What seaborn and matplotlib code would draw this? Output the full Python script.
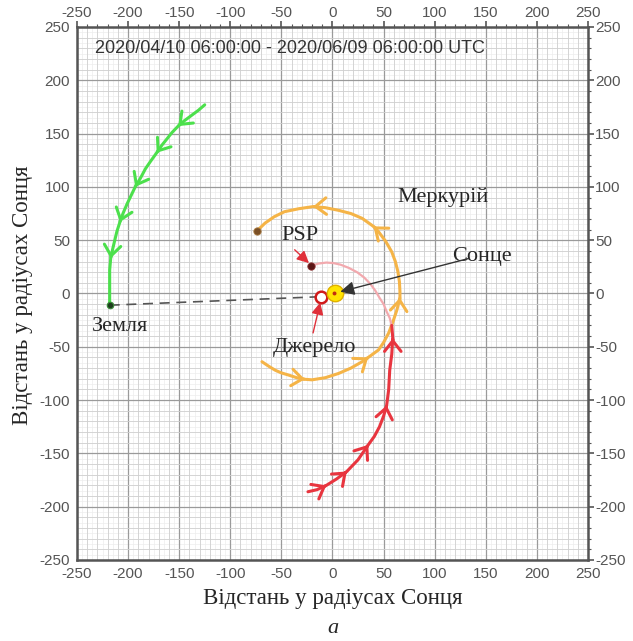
import numpy as np
import pandas as pd
import seaborn as sns
import matplotlib.pyplot as plt
from matplotlib.ticker import MultipleLocator

# траєкторії у радіусах Сонця
earth_x = [-125, -131, -138, -145, -151, -157, -162, -167, -172, -178, -183, -188, -193,
           -197, -201, -205, -208, -211, -213, -215, -217, -218, -218, -218, -218]
earth_y = [177, 172, 167, 162, 157, 151, 145, 139, 132, 124, 117, 108, 100,
           92, 84, 75, 67, 58, 50, 42, 33, 22, 12, 0, -11]
earth_arrows = [4, 8, 12, 16, 20]

merc_x = [-69, -62, -56, -50, -43, -35, -27, -20, -7, 6, 18, 29, 35, 45, 50, 55, 59, 63, 65,
          66, 66, 65.5, 64, 61.5, 58, 52, 45, 40, 29, 18, 6, -7, -19, -33, -47, -57, -66, -74]
merc_y = [-64, -68.5, -72, -74.5, -76.5, -79, -80.5, -81, -79, -75, -70, -64, -60, -53, -46,
          -37, -27, -15.5, -8, -4, 2, 11, 20.5, 30, 39, 49, 58, 63, 70.5, 75, 78, 80.5, 81.5,
          79.5, 76.7, 72, 66, 58.6]
merc_arrows = [6, 12, 19, 27, 32]

psp_x = [-24, -15, -6, 4, 14, 25, 35, 41, 46, 50, 53, 55, 56, 58, 59, 58]
psp_y = [-186, -184, -180, -174, -167, -156, -142, -134, -125, -115, -105, -90, -72, -57, -42, -30]
psp_arrows = [2, 4, 6, 10, 14]
psp_tail_x = [58, 56, 53, 50, 46, 42, 37, 31, 24, 16, 8, 1, -6, -14, -21]
psp_tail_y = [-30, -23, -17, -10, -4, 2.5, 9, 15, 20, 24, 27, 28.5, 29, 28, 26]

earth_pos = (-218, -11)
merc_pos = (-74, 58.6)
psp_pos = (-21, 26)
source_pos = (-11, -3)
sun_pos = (2, 0)

title = "2020/04/10 06:00:00 - 2020/06/09 06:00:00 UTC"
xlabel = "Відстань у радіусах Сонця"

sns.set_style("white")
plt.rcParams['font.family'] = ['Liberation Sans', 'DejaVu Sans']
plt.rcParams['axes.unicode_minus'] = False
serif = ['Liberation Serif', 'DejaVu Serif']

fig = plt.figure(figsize=(6.33, 6.41), dpi=100)
ax = fig.add_axes([0.1216, 0.1264, 0.8073, 0.8315])

# сітка
for v in np.arange(-250, 251, 5):
    ax.axvline(v, color="#ededed", lw=0.5, zorder=0)
    ax.axhline(v, color="#ededed", lw=0.5, zorder=0)
ax.xaxis.set_major_locator(MultipleLocator(50))
ax.yaxis.set_major_locator(MultipleLocator(50))
ax.xaxis.set_minor_locator(MultipleLocator(10))
ax.yaxis.set_minor_locator(MultipleLocator(10))
ax.grid(which="minor", color="#d0d0d0", lw=0.6, zorder=0)
ax.grid(which="major", color="#9a9a9a", lw=0.9, zorder=0)
ax.set_axisbelow(True)


def path(xs, ys, color, arrows=(), lw=2.2):
    df = pd.DataFrame({"x": xs, "y": ys})
    sns.lineplot(data=df, x="x", y="y", sort=False, estimator=None,
                 color=color, lw=lw, ax=ax, zorder=3)
    for i in arrows:
        dx = xs[i + 1] - xs[i - 1]
        dy = ys[i + 1] - ys[i - 1]
        ax.annotate("", xy=(xs[i], ys[i]), xytext=(xs[i] - 0.05 * dx, ys[i] - 0.05 * dy),
                    arrowprops=dict(arrowstyle="->,head_length=0.45,head_width=0.35",
                                    color=color, lw=lw, shrinkA=0, shrinkB=0,
                                    mutation_scale=17), zorder=4)


path(earth_x, earth_y, "#4ce04c", earth_arrows)
path(merc_x, merc_y, "#f5b447", merc_arrows)
path(psp_tail_x, psp_tail_y, "#f2a9ae", lw=1.6)
path(psp_x, psp_y, "#e8353f", psp_arrows)

# лінія Земля - джерело
ax.plot([earth_pos[0], source_pos[0]], [earth_pos[1], source_pos[1]],
        color="#555555", lw=1.2, ls=(0, (6, 4)), zorder=3)

sns.scatterplot(x=[earth_pos[0]], y=[earth_pos[1]], s=22, color="#1d3d1d",
                edgecolor="#3a8a3a", lw=0.8, ax=ax, zorder=5)
sns.scatterplot(x=[merc_pos[0]], y=[merc_pos[1]], s=28, color="#7a4f25",
                edgecolor="#a87a40", lw=0.6, ax=ax, zorder=5)
sns.scatterplot(x=[psp_pos[0]], y=[psp_pos[1]], s=28, color="#5a1515",
                edgecolor="#8a3030", lw=0.6, ax=ax, zorder=5)
sns.scatterplot(x=[source_pos[0]], y=[source_pos[1]], s=70, color="white",
                edgecolor="#d01a1a", lw=1.8, ax=ax, zorder=6)
sns.scatterplot(x=[sun_pos[0]], y=[sun_pos[1]], s=140, color="#ffe400",
                edgecolor="#e0b000", lw=1.0, ax=ax, zorder=6)
sns.scatterplot(x=[sun_pos[0]], y=[sun_pos[1]], s=8, color="#c03010",
                edgecolor="none", ax=ax, zorder=7)

# підписи
ax.text(-232, 230, title, fontsize=13, color="#333333", va="center", ha="left")
ax.text(108, 90.5, "Меркурій", family=serif, fontsize=16, ha="center", va="center")
ax.text(146, 35, "Сонце", family=serif, fontsize=16, ha="center", va="center")
ax.text(-32, 54, "PSP", family=serif, fontsize=16, ha="center", va="center")
ax.text(-18, -51, "Джерело", family=serif, fontsize=16, ha="center", va="center")
ax.text(-208, -31, "Земля", family=serif, fontsize=16, ha="center", va="center")

ax.annotate("", xy=(5, 1), xytext=(134, 33),
            arrowprops=dict(arrowstyle="-|>,head_length=0.6,head_width=0.3",
                            color="#333333", lw=1.0, shrinkA=0, shrinkB=2,
                            mutation_scale=14), zorder=8)
ax.annotate("", xy=(-23, 28.5), xytext=(-37, 41),
            arrowprops=dict(arrowstyle="-|>,head_length=0.6,head_width=0.3",
                            color="#e0303a", lw=1.0, shrinkA=0, shrinkB=0,
                            mutation_scale=12), zorder=8)
ax.annotate("", xy=(-12, -8.5), xytext=(-19, -37),
            arrowprops=dict(arrowstyle="-|>,head_length=0.6,head_width=0.3",
                            color="#e0303a", lw=1.0, shrinkA=0, shrinkB=0,
                            mutation_scale=12), zorder=8)

ax.set_xlim(-250, 250)
ax.set_ylim(-250, 250)
ax.set_xlabel("")
ax.set_ylabel("")
ax.tick_params(which="both", top=True, right=True, labeltop=True, labelright=True,
               direction="out", color="#555555")
ax.tick_params(which="major", length=4, width=1.2, labelsize=11,
               labelcolor="#555555", pad=1)
ax.tick_params(which="minor", length=2.5, width=0.8)
for s in ax.spines.values():
    s.set_color("#555555")
    s.set_linewidth(1.8)

fig.text(0.526, 0.067, xlabel, family=serif, fontsize=16.5, ha="center", va="center")
fig.text(0.035, 0.54, xlabel, family=serif, fontsize=16.5, ha="center", va="center",
         rotation=90)
fig.text(0.526, 0.02, "а", family=serif, fontsize=16, style="italic",
         ha="center", va="center")

fig.savefig("out.png", dpi=100)
